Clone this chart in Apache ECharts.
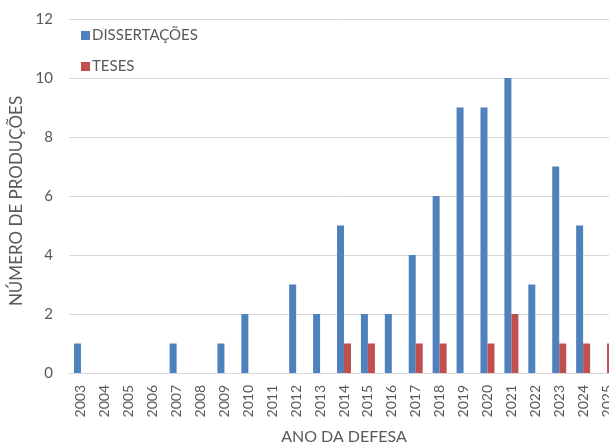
<!DOCTYPE html>
<html>
<head>
<meta charset="utf-8">
<script src="https://cdn.jsdelivr.net/npm/echarts@6/dist/echarts.min.js"></script>
<style>
  html, body { margin: 0; padding: 0; background: #fff; overflow: hidden; }
  #chart { width: 609px; height: 446px; }
</style>
</head>
<body>
<div id="chart"></div>
<script>
// Produções por ano de defesa
const anos = ['2003','2004','2005','2006','2007','2008','2009','2010','2011','2012','2013','2014',
              '2015','2016','2017','2018','2019','2020','2021','2022','2023','2024','2025'];
const dissertacoes = [1,0,0,0,1,0,1,2,0,3,2,5,2,2,4,6,9,9,10,3,7,5,0];
const teses        = [0,0,0,0,0,0,0,0,0,0,0,1,1,0,1,1,0,1,2,0,1,1,1];
const yTicks = [0, 2, 4, 6, 8, 10, 12];

const font = 'Lato, Liberation Sans, Arial, sans-serif';
const textColor = '#595959';

const chart = echarts.init(document.getElementById('chart'), null, { renderer: 'canvas' });
chart.setOption({
  animation: false,
  backgroundColor: '#ffffff',
  grid: { left: 69, right: -10, top: 19, bottom: 73, containLabel: false, outerBoundsMode: 'none' },
  legend: {
    orient: 'vertical',
    left: 76,
    top: 23,
    itemWidth: 9,
    itemHeight: 9,
    itemGap: 16,
    icon: 'rect',
    textStyle: { fontFamily: font, fontSize: 15, color: textColor, padding: [0, 0, 0, -3] },
    data: ['DISSERTAÇÕES', 'TESES']
  },
  xAxis: {
    type: 'category',
    data: anos,
    name: 'ANO DA DEFESA',
    nameLocation: 'middle',
    nameGap: 56,
    nameTextStyle: { fontFamily: font, fontSize: 16, color: textColor },
    axisLine: { lineStyle: { color: '#d9d9d9', width: 1 } },
    axisTick: { show: false },
    axisLabel: { rotate: 90, interval: 0, fontFamily: font, fontSize: 14, color: textColor, margin: 12 }
  },
  yAxis: {
    type: 'value',
    min: yTicks[0],
    max: yTicks[yTicks.length - 1],
    interval: 2,
    name: 'NÚMERO DE PRODUÇÕES',
    nameLocation: 'middle',
    nameGap: 38,
    nameTextStyle: { fontFamily: font, fontSize: 17, color: textColor, padding: [0, 10, 0, 0] },
    axisLine: { show: false },
    axisTick: { show: false },
    splitLine: { lineStyle: { color: '#d9d9d9', width: 1 } },
    axisLabel: { fontFamily: font, fontSize: 15, color: textColor, margin: 16 }
  },
  series: [
    {
      name: 'DISSERTAÇÕES',
      type: 'bar',
      data: dissertacoes,
      barWidth: 7,
      barGap: '0%',
      itemStyle: { color: '#4f81bd' }
    },
    {
      name: 'TESES',
      type: 'bar',
      data: teses,
      barWidth: 7,
      barGap: '0%',
      itemStyle: { color: '#c0504d' }
    }
  ]
});
</script>
</body>
</html>
